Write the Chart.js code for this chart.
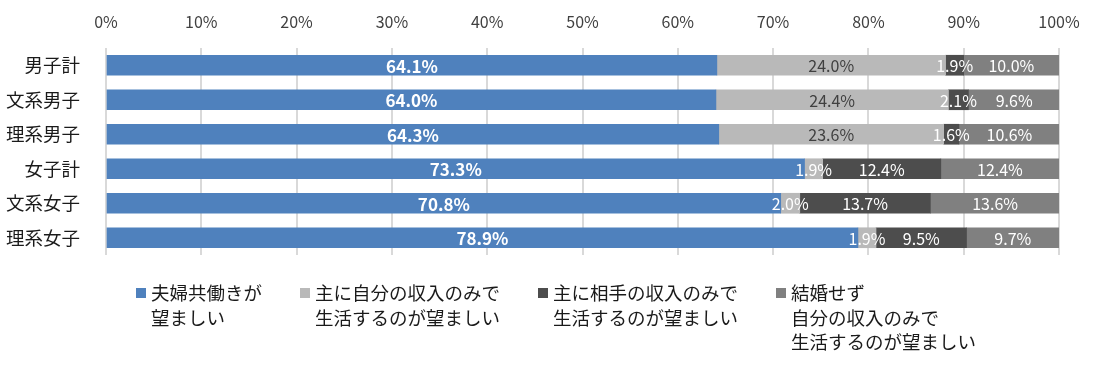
<!DOCTYPE html>
<html>
<head>
<meta charset="utf-8">
<script src="https://cdn.jsdelivr.net/npm/chart.js@4"></script>
<style>
  html, body { margin: 0; padding: 0; background: #fff; }
  #wrap { width: 1103px; height: 368px; }
</style>
</head>
<body>
<div id="wrap"><canvas id="grafico" width="1103" height="368"></canvas></div>
<script>
const categorias = ['男子計', '文系男子', '理系男子', '女子計', '文系女子', '理系女子'];

const tomobataraki = [64.1, 64.0, 64.3, 73.3, 70.8, 78.9];
const jibunNomi    = [24.0, 24.4, 23.6, 1.9, 2.0, 1.9];
const aiteNomi     = [1.9, 2.1, 1.6, 12.4, 13.7, 9.5];
const kekkonSezu   = [10.0, 9.6, 10.6, 12.4, 13.6, 9.7];

const legendas = [
    ['夫婦共働きが', '望ましい'],
    ['主に自分の収入のみで', '生活するのが望ましい'],
    ['主に相手の収入のみで', '生活するのが望ましい'],
    ['結婚せず', '自分の収入のみで', '生活するのが望ましい']
];

const cores = ['#4F81BD', '#B9B9B9', '#4D4D4D', '#808080'];
const FONTE = '"Noto Sans CJK JP", "Noto Sans", sans-serif';

// rótulos de dados centrados em cada segmento
const rotulosPlugin = {
    id: 'rotulos',
    afterDatasetsDraw(chart) {
        const ctx = chart.ctx;
        ctx.save();
        ctx.textAlign = 'center';
        ctx.textBaseline = 'middle';
        chart.data.datasets.forEach((ds, i) => {
            const meta = chart.getDatasetMeta(i);
            meta.data.forEach((bar, j) => {
                const cor = Array.isArray(ds.corRotulo) ? ds.corRotulo[j] : ds.corRotulo;
                ctx.fillStyle = cor;
                ctx.font = (i === 0 ? 'bold 17px ' : '16px ') + FONTE;
                const x = (bar.x + bar.base) / 2;
                ctx.fillText(ds.data[j].toFixed(1) + '%', x, bar.y + 1);
            });
        });
        ctx.restore();
    }
};

// legenda com várias linhas
const legendaPlugin = {
    id: 'legendaMulti',
    afterDraw(chart) {
        const ctx = chart.ctx;
        ctx.save();
        ctx.font = '18.5px ' + FONTE;
        const caixa = 10, gapCaixa = 5, gap = 38, linha = 24.5;
        const larguras = legendas.map(l => caixa + gapCaixa + Math.max(...l.map(t => ctx.measureText(t).width)));
        const total = larguras.reduce((a, b) => a + b, 0) + gap * (legendas.length - 1);
        let x = 556 - total / 2;
        const y0 = 293;
        ctx.textBaseline = 'middle';
        ctx.textAlign = 'left';
        legendas.forEach((l, i) => {
            ctx.fillStyle = cores[i];
            ctx.fillRect(x, y0 - 5, caixa, caixa);
            ctx.fillStyle = '#1A1A1A';
            l.forEach((t, k) => ctx.fillText(t, x + caixa + gapCaixa, y0 + k * linha));
            x += larguras[i] + gap;
        });
        ctx.restore();
    }
};

function criarGrafico() {
    const ctx = document.getElementById('grafico').getContext('2d');
    new Chart(ctx, {
        type: 'bar',
        data: {
            labels: categorias,
            datasets: [
                { label: legendas[0].join(''), data: tomobataraki, backgroundColor: cores[0], corRotulo: '#FFFFFF' },
                { label: legendas[1].join(''), data: jibunNomi, backgroundColor: cores[1],
                  corRotulo: ['#404040', '#404040', '#404040', '#FFFFFF', '#FFFFFF', '#FFFFFF'] },
                { label: legendas[2].join(''), data: aiteNomi, backgroundColor: cores[2], corRotulo: '#FFFFFF' },
                { label: legendas[3].join(''), data: kekkonSezu, backgroundColor: cores[3], corRotulo: '#FFFFFF' }
            ]
        },
        options: {
            indexAxis: 'y',
            responsive: false,
            animation: false,
            barThickness: 20,
            layout: { padding: { left: 0, right: 44, top: 0, bottom: 113 } },
            scales: {
                x: {
                    position: 'top',
                    stacked: true,
                    min: 0,
                    max: 100,
                    border: { display: false },
                    grid: { color: '#D9D9D9', lineWidth: 2, drawTicks: false },
                    ticks: {
                        stepSize: 10,
                        padding: 16,
                        color: '#404040',
                        font: { family: FONTE, size: 16 },
                        callback: v => v + '%'
                    },
                    afterFit: s => { s.height = 48; }
                },
                y: {
                    stacked: true,
                    border: { display: false },
                    grid: { display: false },
                    ticks: {
                        padding: 18,
                        color: '#1A1A1A',
                        font: { family: FONTE, size: 18.5 }
                    },
                    afterFit: s => { s.width = 106; }
                }
            },
            plugins: {
                legend: { display: false },
                tooltip: { enabled: false }
            }
        },
        plugins: [rotulosPlugin, legendaPlugin]
    });
}

window.onload = criarGrafico;
</script>
</body>
</html>
